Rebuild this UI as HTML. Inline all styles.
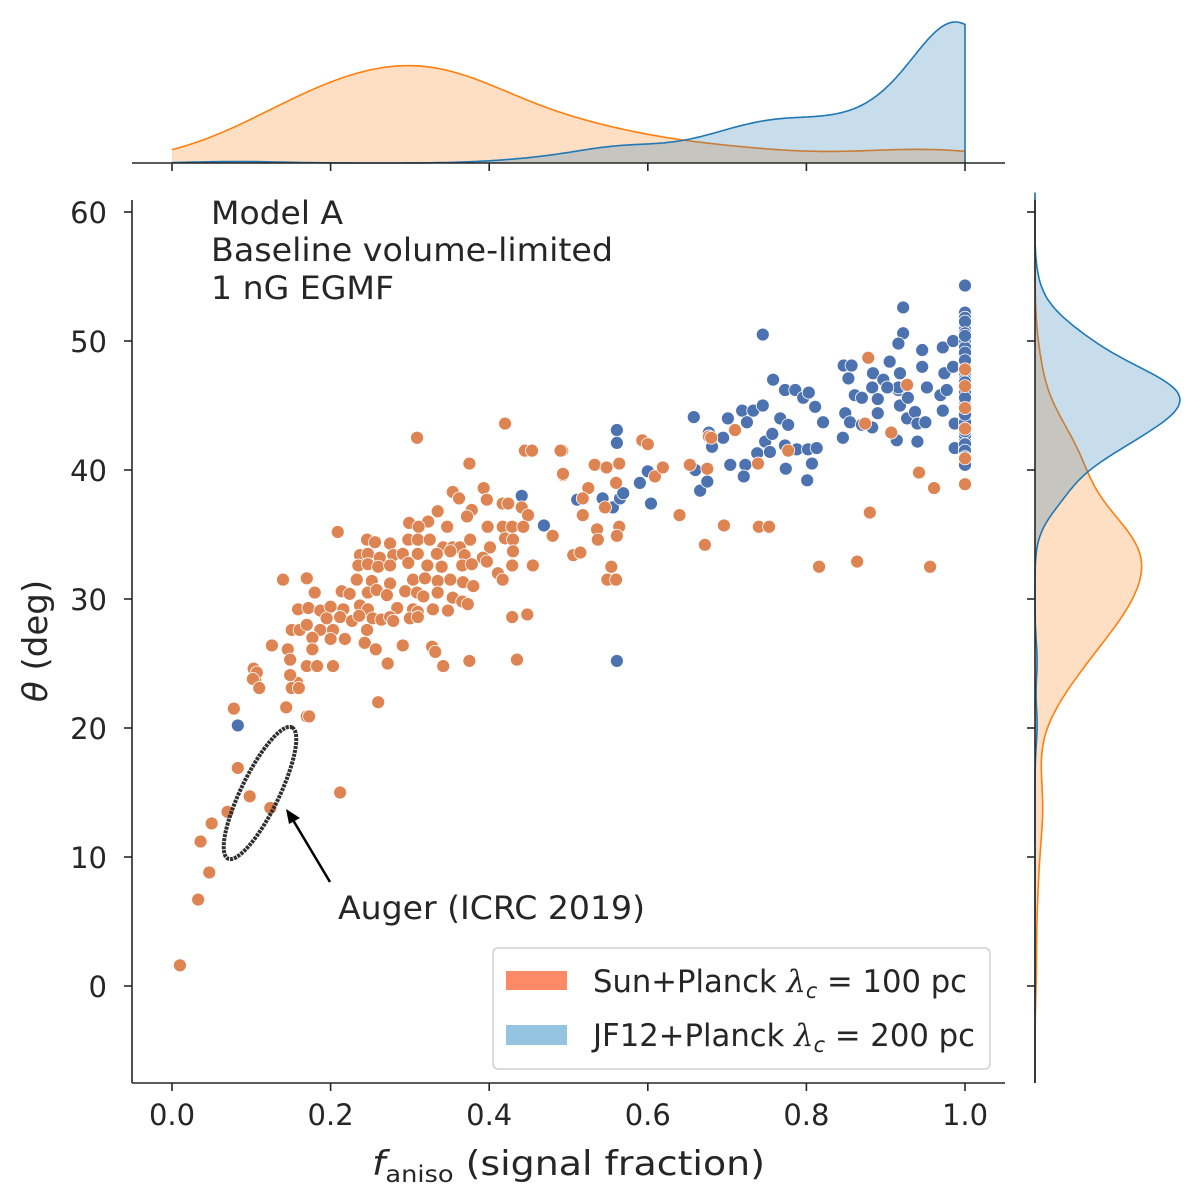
<!DOCTYPE html>
<html><head><meta charset="utf-8"><style>
html,body{margin:0;padding:0;background:#fff;}
svg{display:block;font-family:"DejaVu Sans","Liberation Sans",sans-serif;}
</style></head><body>
<svg id="chart" width="1200" height="1204" viewBox="0 0 1200 1204" xmlns="http://www.w3.org/2000/svg">
<g id="marg-top"></g>
<g id="marg-right"></g>
<g id="axes"></g>
<g id="points"></g>
<g>
<ellipse cx="260" cy="793" rx="73" ry="19" transform="rotate(-64 260 793)" fill="none" stroke="#2f2f2f" stroke-width="4" stroke-dasharray="3 1"/>
</g>
<g>
<line x1="330" y1="882" x2="293" y2="820" stroke="#000" stroke-width="2.5"/>
<polygon points="286,809 300,818 289,824" fill="#000"/>
</g>
<text x="338" y="919" font-size="32" fill="#262626" textLength="307" lengthAdjust="spacingAndGlyphs">Auger (ICRC 2019)</text>
<g font-size="32" fill="#262626">
<text x="211" y="224" textLength="132" lengthAdjust="spacingAndGlyphs">Model A</text>
<text x="211" y="261" textLength="402" lengthAdjust="spacingAndGlyphs">Baseline volume-limited</text>
<text x="211" y="299" textLength="183" lengthAdjust="spacingAndGlyphs">1 nG EGMF</text>
</g>
<g>
<rect x="493" y="948" width="497" height="121" rx="5" fill="#fff" stroke="#d0d0d0" stroke-width="1.5"/>
<rect x="506" y="971" width="61" height="19" fill="#fc8a66"/>
<rect x="506" y="1025" width="61" height="20" fill="#94c4df"/>
<text x="593" y="992" font-size="31" fill="#262626" textLength="374" lengthAdjust="spacingAndGlyphs">Sun+Planck <tspan font-style="italic" font-family="DejaVu Serif, serif">λ</tspan><tspan font-style="italic" font-size="21" dy="6">c</tspan><tspan dy="-6"> = 100 pc</tspan></text>
<text x="593" y="1046" font-size="31" fill="#262626" textLength="382" lengthAdjust="spacingAndGlyphs">JF12+Planck <tspan font-style="italic" font-family="DejaVu Serif, serif">λ</tspan><tspan font-style="italic" font-size="21" dy="6">c</tspan><tspan dy="-6"> = 200 pc</tspan></text>
</g>
<text x="372" y="1175" font-size="34" fill="#262626" textLength="393" lengthAdjust="spacingAndGlyphs"><tspan font-style="italic">f</tspan><tspan font-size="23" dy="7">aniso</tspan><tspan dy="-7"> (signal fraction)</tspan></text>
<text transform="translate(47 641) rotate(-90)" font-size="34" fill="#262626" text-anchor="middle"><tspan font-style="italic">θ</tspan> (deg)</text>
</svg>
<script>
const xTicks=[0,0.2,0.4,0.6,0.8,1.0];
const xTickLabels=["0.0","0.2","0.4","0.6","0.8","1.0"];
const yTicks=[0,10,20,30,40,50,60];
const yTickLabels=["0","10","20","30","40","50","60"];
const sunX=[0.01,0.033,0.047,0.036,0.05,0.07,0.083,0.098,0.124,0.078,0.212,0.17,0.26,0.158,0.105,0.103,0.126,0.14,
0.42,0.309,0.445,0.454,0.492,0.375,0.493,0.393,0.354,0.362,0.397,0.417,0.424,0.441,0.449,0.335,0.378,0.372,0.323,0.299,0.311,0.209,0.347,0.398,0.417,0.429,0.443,0.48,
0.246,0.256,0.275,0.298,0.31,0.325,0.342,0.354,0.363,0.376,0.401,0.42,0.43,0.43,
0.237,0.247,0.262,0.279,0.291,0.31,0.334,0.351,0.369,0.392,
0.235,0.247,0.26,0.275,0.298,0.322,0.34,0.366,0.378,0.397,0.429,0.455,0.411,0.417,
0.233,0.252,0.275,0.304,0.319,0.335,0.351,0.367,0.38,0.17,
0.18,0.214,0.224,0.247,0.258,0.271,0.294,0.309,0.317,0.335,0.354,0.366,0.373,
0.159,0.172,0.187,0.2,0.216,0.237,0.247,0.284,0.304,0.31,0.329,0.348,
0.195,0.212,0.227,0.236,0.253,0.264,0.275,0.279,0.3,0.31,0.429,0.448,
0.151,0.161,0.17,0.187,0.203,0.218,0.2,0.177,0.246,
0.126,0.146,0.177,0.243,0.257,0.291,0.328,0.332,
0.149,0.17,0.183,0.203,0.272,0.342,0.375,0.435,
0.107,0.102,0.11,0.149,0.151,0.16,0.144,0.173,
0.49,0.493,0.533,0.548,0.564,0.593,0.6,0.609,0.619,0.56,0.525,0.518,0.518,0.546,0.536,0.537,0.564,0.561,0.506,0.515,0.554,0.549,0.56,0.653,0.675,0.677,0.709,0.739,0.777,
0.68,0.71,0.878,0.927,0.907,0.942,0.961,1.0,0.88,0.864,0.956,0.816,0.74,0.753,0.696,0.672,0.64,0.874,1.0,1.0,1.0,1.0,1.0];
const sunY=[1.6,6.7,8.8,11.2,12.6,13.5,16.9,14.7,13.8,21.5,15.0,20.9,22.0,23.5,23.7,24.6,26.4,31.5,
43.6,42.5,41.5,41.5,41.5,40.5,39.6,38.6,38.3,37.8,37.7,37.4,37.4,37.1,36.5,36.8,36.9,36.4,36.0,35.9,35.6,35.2,35.6,35.6,35.6,35.6,35.6,34.9,
34.6,34.4,34.3,34.6,34.6,34.6,34.0,34.0,34.0,34.6,34.0,34.7,34.6,33.7,
33.4,33.5,33.2,33.4,33.5,33.5,33.5,33.7,33.4,33.2,
32.6,32.7,32.5,32.6,32.8,32.6,32.5,32.6,32.7,32.9,32.6,32.6,32.0,31.5,
31.5,31.4,31.2,31.5,31.6,31.4,31.5,31.3,31.0,31.6,
30.5,30.6,30.4,30.5,30.7,30.3,30.6,30.5,30.2,30.5,30.1,29.8,29.6,
29.2,29.3,29.1,29.4,29.2,29.5,29.2,29.3,29.2,29.0,29.2,29.1,
28.5,28.6,28.3,28.7,28.5,28.4,28.6,28.3,28.5,28.6,28.6,28.8,
27.6,27.6,28.0,27.6,27.6,26.9,26.9,27.0,27.6,
26.4,26.1,26.1,26.6,26.1,26.4,26.3,25.9,
25.3,24.8,24.8,24.8,25.0,24.8,25.2,25.3,
24.3,23.8,23.1,24.1,23.1,23.1,21.6,20.9,
41.5,39.7,40.4,40.2,40.5,42.3,42.0,39.5,40.2,39.0,38.6,37.8,36.5,37.1,35.4,34.6,35.6,34.9,33.4,33.6,32.5,31.5,31.5,40.4,40.1,42.6,43.1,40.5,41.5,
42.5,43.1,48.7,46.6,42.9,39.8,38.6,38.9,36.7,32.9,32.5,32.5,35.6,35.6,35.7,34.2,36.5,43.6,47.8,46.5,44.8,43.2,40.9];
const jfX=[0.561,0.561,0.59,0.6,0.604,0.511,0.543,0.556,0.565,0.569,0.469,0.658,0.677,0.695,0.681,0.666,0.675,0.66,
0.701,0.719,0.725,0.733,0.745,0.704,0.723,0.721,0.738,0.748,0.754,0.757,0.767,0.777,0.773,0.788,0.802,0.813,0.774,0.801,0.807,
0.758,0.773,0.786,0.796,0.803,0.811,0.821,0.745,
0.916,0.847,0.857,0.853,0.849,0.855,0.846,0.861,0.87,0.884,0.897,0.883,0.89,0.905,0.918,0.916,0.902,0.89,0.918,0.928,0.927,0.937,0.94,0.95,0.94,0.914,0.952,0.946,0.946,0.922,0.916,0.922,0.972,0.985,0.974,0.985,0.969,0.977,0.972,0.987,0.987,0.87,0.883,
1,1,1,1,1,1,1,1,1,1,1,1,1,1,1,1,1,1,1,1,1,1,1,1,1,
1,1,1,1,1,1,1,1,1,1,1,1,1,1,1,1,1,1,1,1,1,1,1,1,1,
1,1,1,1,1,1,1,1,1,1,1,1,1,1,1,1,1,1,1,1,1,1,1,1,1,
0.561,0.083,0.441];
const jfY=[43.1,42.1,39.0,39.9,37.4,37.7,37.8,37.1,37.8,38.2,35.7,44.1,42.9,42.5,41.8,38.4,39.1,40.0,
44.0,44.6,43.7,44.6,45.0,40.4,40.4,39.5,41.3,42.2,41.4,42.8,44.0,43.5,41.9,41.6,41.6,41.7,40.1,39.2,40.5,
47.0,46.2,46.2,45.6,46.0,44.9,43.7,50.5,
46.2,48.1,48.1,47.1,44.4,43.7,42.5,45.8,45.6,47.5,47.0,46.4,45.5,48.4,47.5,46.4,46.4,44.4,45.0,45.6,44.0,44.5,43.6,43.7,42.2,42.3,46.4,48.0,49.3,50.6,49.8,52.6,49.5,50.0,47.5,48.0,45.8,46.2,44.6,43.6,41.7,43.5,43.3,
54.3,52.2,51.8,51.2,50.9,50.3,49.7,49.3,48.6,48.2,47.7,47.1,46.7,46.3,45.8,45.2,44.7,44.0,43.4,42.9,42.4,41.7,41.3,40.8,40.4,
51.5,50.6,50.1,49.5,49.0,48.8,48.4,48.0,47.9,47.4,47.2,46.9,46.6,46.5,46.4,46.1,46.0,45.9,45.6,45.5,45.4,45.1,44.9,44.5,44.2,
47.5,47.0,46.8,46.4,46.2,45.7,45.3,45.0,44.8,44.4,43.9,43.7,43.2,42.7,42.0,41.5,49.1,48.5,47.8,46.0,45.6,44.3,43.0,41.0,50.4,
25.2,20.2,38.0];

const NS="http://www.w3.org/2000/svg";
const X0=172,XS=793,Y0=986,YS=12.9;
const xs=v=>X0+v*XS, ys=v=>Y0-v*YS;
function mk(tag,attrs,parent){const e=document.createElementNS(NS,tag);for(const k in attrs)e.setAttribute(k,attrs[k]);parent.appendChild(e);return e;}
const axesG=document.getElementById('axes');
const C="#262626";
let el;
el=mk('line',{x1:132,y1:1083,x2:1005,y2:1083,stroke:C,'stroke-width':1.6},axesG);


el=mk('line',{x1:132,y1:200,x2:132,y2:1083,stroke:C,'stroke-width':1.6},axesG);


el=mk('line',{x1:132,y1:163,x2:1005,y2:163,stroke:C,'stroke-width':1.6},axesG);


el=mk('line',{x1:1035,y1:200,x2:1035,y2:1083,stroke:C,'stroke-width':1.6},axesG);


xTicks.forEach((t,i)=>{
  mk('line',{x1:xs(t),y1:1083,x2:xs(t),y2:1091,stroke:C,'stroke-width':1.6},axesG);
  mk('line',{x1:xs(t),y1:163,x2:xs(t),y2:171,stroke:C,'stroke-width':1.6},axesG);
  const tx=mk('text',{x:xs(t),y:1125,'font-size':29,fill:C,'text-anchor':'middle'},axesG);
  tx.textContent=xTickLabels[i];
  
  
});
yTicks.forEach((t,i)=>{
  mk('line',{x1:124,y1:ys(t),x2:132,y2:ys(t),stroke:C,'stroke-width':1.6},axesG);
  mk('line',{x1:1027,y1:ys(t),x2:1035,y2:ys(t),stroke:C,'stroke-width':1.6},axesG);
  const tx=mk('text',{x:107,y:ys(t)+11,'font-size':29,fill:C,'text-anchor':'end'},axesG);
  tx.textContent=yTickLabels[i];
  
  
});
const ptsG=document.getElementById('points');
function drawPts(X,Y,col,name){
  for(let i=0;i<X.length;i++){
    const c=mk('circle',{cx:xs(X[i]),cy:ys(Y[i]),r:6.5,fill:col,stroke:'#fff','stroke-width':0.8},ptsG);
    
    
  }
}
drawPts(jfX,jfY,'#4c72b0','point-jf12-planck');
drawPts(sunX,sunY,'#dd8452','point-sun-planck');
function sdev(a){const m=a.reduce((s,v)=>s+v,0)/a.length;return Math.sqrt(a.reduce((s,v)=>s+(v-m)*(v-m),0)/(a.length-1));}
function kde(a,grid){const h=sdev(a)*Math.pow(a.length,-0.2);return grid.map(g=>{let s=0;for(const v of a){const z=(g-v)/h;s+=Math.exp(-0.5*z*z);}return s/(a.length*h*Math.sqrt(2*Math.PI));});}
const NTOT=sunX.length+jfX.length;
const gridX=[],gridY=[];
for(let i=0;i<=300;i++)gridX.push(i/300);
for(let i=0;i<=300;i++)gridY.push(-7.5+i*(61.5+7.5)/300);
const dxS=kde(sunX,gridX).map(v=>v*sunX.length/NTOT), dxJ=kde(jfX,gridX).map(v=>v*jfX.length/NTOT);
const dyS=kde(sunY,gridY).map(v=>v*sunY.length/NTOT), dyJ=kde(jfY,gridY).map(v=>v*jfY.length/NTOT);
const scX=141/Math.max(...dxS,...dxJ), scY=145/Math.max(...dyS,...dyJ);
const topG=document.getElementById('marg-top'), rightG=document.getElementById('marg-right');
function topPath(d,col,name){
  const p=`M${xs(gridX[0])},163 `+gridX.map((g,i)=>`L${xs(g).toFixed(1)},${(163-d[i]*scX).toFixed(1)}`).join(' ')+` L${xs(1)},163 Z`;
  const f=mk('path',{d:p,fill:col,'fill-opacity':0.25,stroke:'none'},topG);
  
  
  const l=mk('path',{d:gridX.map((g,i)=>`${i?'L':'M'}${xs(g).toFixed(1)},${(163-d[i]*scX).toFixed(1)}`).join(' ')+` L${xs(1)},163`,fill:'none',stroke:col,'stroke-width':1.6},topG);
  
  
}
function rightPath(d,col,name){
  const p=`M1035,${ys(gridY[0])} `+gridY.map((g,i)=>`L${(1035+d[i]*scY).toFixed(1)},${ys(g).toFixed(1)}`).join(' ')+` L1035,${ys(gridY[gridY.length-1])} Z`;
  const f=mk('path',{d:p,fill:col,'fill-opacity':0.25,stroke:'none'},rightG);
  
  
  const l=mk('path',{d:gridY.map((g,i)=>`${i?'L':'M'}${(1035+d[i]*scY).toFixed(1)},${ys(g).toFixed(1)}`).join(' '),fill:'none',stroke:col,'stroke-width':1.6},rightG);
  
  
}
topPath(dxS,'#ff7f0e','kde-top-sun');
topPath(dxJ,'#1f77b4','kde-top-jf12');
rightPath(dyS,'#ff7f0e','kde-right-sun');
rightPath(dyJ,'#1f77b4','kde-right-jf12');
</script>
</body></html>
